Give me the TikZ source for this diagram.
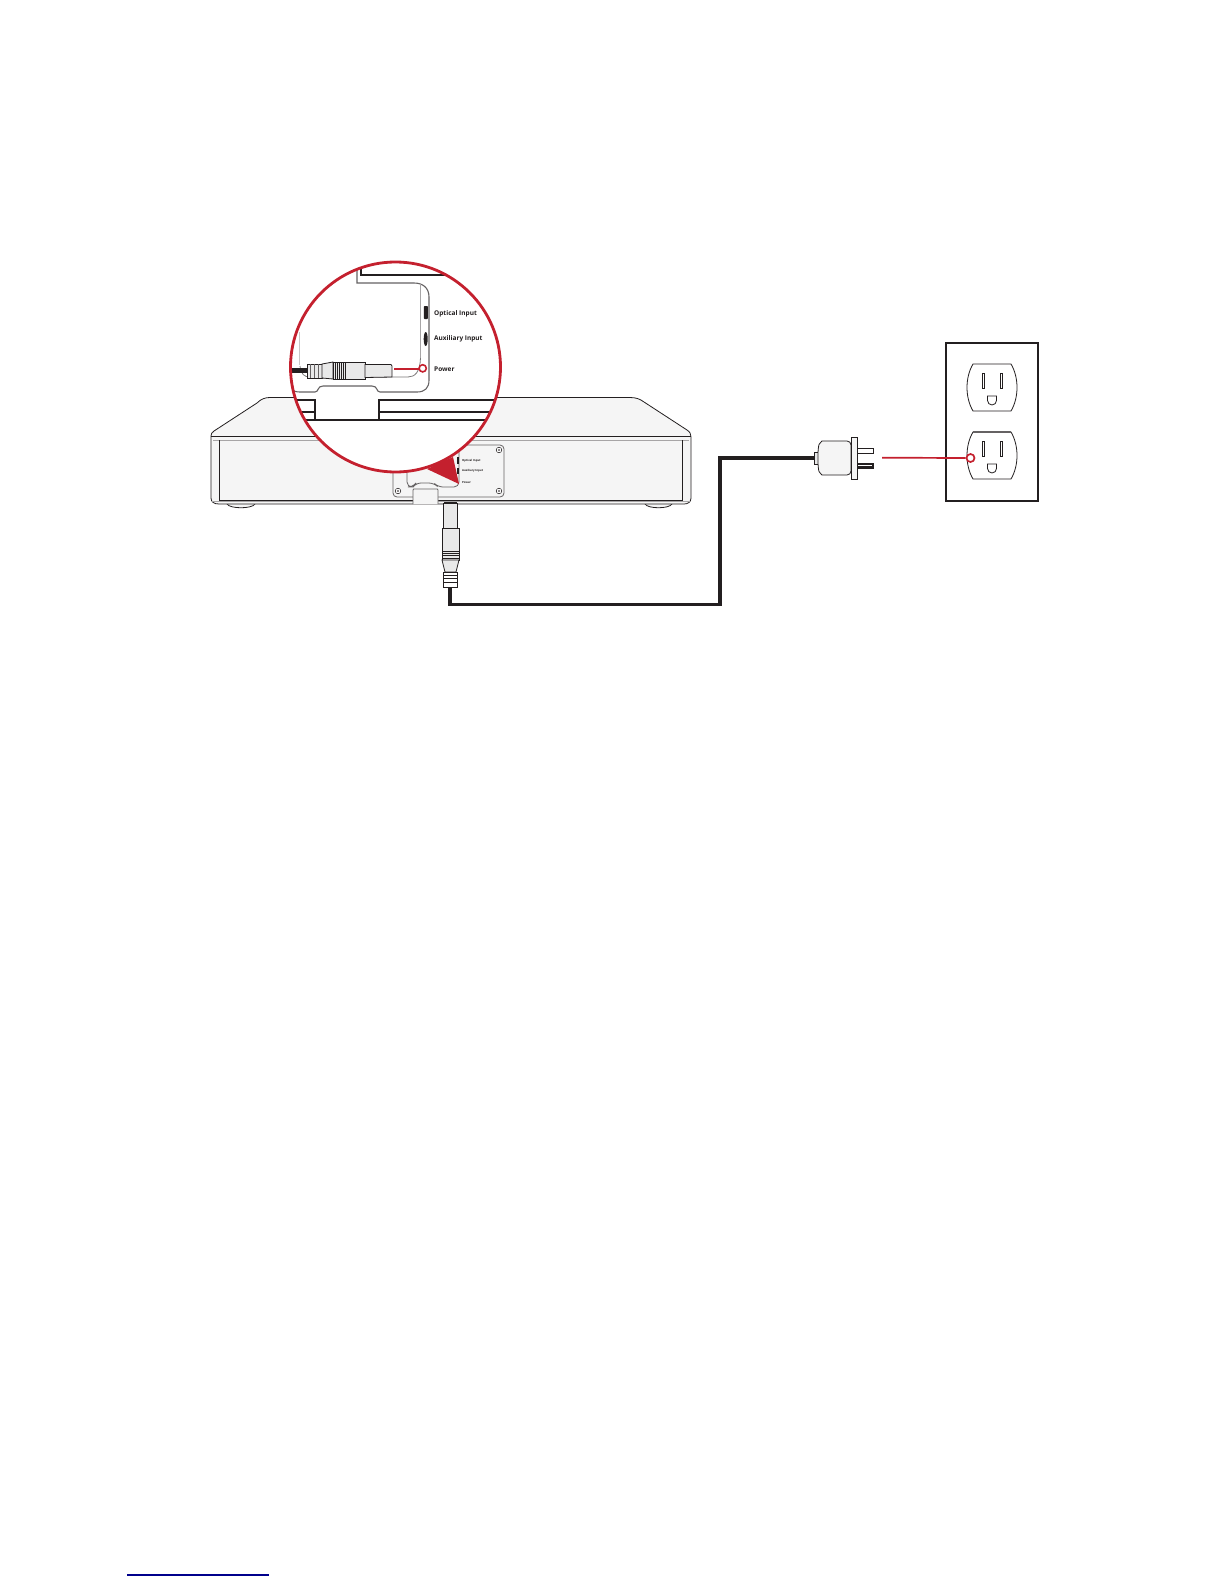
\documentclass[tikz,border=0pt]{standalone}
\usepackage{fontspec}
\setmainfont{Open Sans}
\definecolor{redc}{HTML}{C4202E}
\definecolor{ink}{HTML}{231F20}
\definecolor{bodyc}{HTML}{F5F5F5}
\definecolor{plugc}{HTML}{E9E9E9}
\tikzset{
  ln/.style={draw=ink,line width=0.8pt},
  gl/.style={draw=ink!70,line width=0.8pt},
  thick line/.style={draw=ink,line width=2pt},
  cable/.style={draw=ink,line width=3.6pt},
  redline/.style={draw=redc,line width=1.7pt},
  lab/.style={font=\bfseries\fontsize{6.5}{7}\selectfont,text=ink,inner sep=0pt,anchor=west},
  tiny/.style={font=\bfseries\fontsize{2.8}{3}\selectfont,text=ink,inner sep=0pt,anchor=west},
  screw/.pic={\draw[ln,line width=0.5pt,fill=white] (0,0) circle[radius=2.8pt]; \fill[ink!70] (0,0) circle[radius=1.2pt];},
  outlet/.pic={
    \draw[ln,fill=white] (-19,-23.5) -- (19,-23.5) .. controls (27,-10) and (27,10) .. (19,23.5) -- (-19,23.5) .. controls (-27,10) and (-27,-10) .. (-19,-23.5) -- cycle;
    \draw[ln,fill=white] (-10,-14.5) rectangle (-8,0.5);
    \draw[ln,fill=white] (8.5,-14.5) rectangle (10.5,0.5);
    \draw[ln,fill=white] (-4.5,8.5) -- (4.5,8.5) -- (4.5,13) arc[start angle=0,end angle=-180,radius=4.5pt] -- cycle;
  }
}
\begin{document}
\begin{tikzpicture}[x=1pt,y=-1pt]
\useasboundingbox (0,0) rectangle (1224,1584);
\fill[white] (0,0) rectangle (1224,1584);

% link rule
\draw[draw=blue!55!black,line width=1.2pt] (127,1575) -- (269,1575);

% feet
\draw[ln,fill=bodyc] (227,504) .. controls (230,509) and (252,509) .. (255,504);
\draw[ln,fill=bodyc] (645,504) .. controls (648,509) and (669,509) .. (672,504);

% soundbar body
\draw[ln,fill=bodyc] (270,397.5) -- (630,397.5) .. controls (636,397.5) and (640,399) .. (644,402)
  -- (687,430) .. controls (690,432) and (691,434) .. (691,437) -- (691,498)
  .. controls (691,502) and (688,504) .. (684,504) -- (219,504)
  .. controls (214,504) and (211,502) .. (211,498) -- (211,436)
  .. controls (211,434) and (212,432) .. (214,431) -- (257,403)
  .. controls (261,399) and (265,397.5) .. (270,397.5) -- cycle;
\draw[ln] (211,436) -- (691,436);
\draw[ln,draw=ink!40] (213,440) -- (689,440);
\draw[ln] (219.5,440) -- (219.5,500.5) -- (682,500.5) -- (682,440);
\draw[ln,draw=ink!40] (212,501) -- (690,501);

% rear panel
\draw[gl,fill=bodyc,rounded corners=4pt] (393,445) rectangle (504,497);
\draw[gl,fill=bodyc,rounded corners=5pt] (407,445) -- (407,487) -- (413,487) -- (416,483) -- (434,483) -- (438,487) -- (459,487) -- (459,445);
\draw[gl,fill=bodyc] (413,504) -- (413,490) .. controls (413,489) and (414,489) .. (415,489) -- (436,489) .. controls (437,489) and (438,489) .. (438,490) -- (438,504);
\pic at (398,491) {screw};
\pic at (499,491) {screw};
\pic at (499,450) {screw};
\fill[ink] (456.5,457) rectangle (459,464);
\fill[ink] (457,468) rectangle (459,474);
\node[tiny] (pnlOpt) at (462,460.5) {Optical Input};
\node[tiny] (pnlAux) at (462,470.5) {Auxiliary Input};
\node[tiny] (pnlPow) at (462,483) {Power};

% red wedge toward the panel
\fill[redc] (459,484) -- (427,469) -- (453,457) -- cycle;

% magnifier
\begin{scope}
  \path[clip] (395.5,367) circle[radius=105pt];
  \fill[white] (280,250) rectangle (510,490);
  % upper edge of back
  \draw[thick line] (361,255) -- (361,275) -- (450,275);
  \draw[gl,line width=1.1pt] (357,255) -- (357,283) -- (414,283) .. controls (423,283) and (429,288) .. (429,297)
    -- (429,380) .. controls (429,388) and (425,392) .. (417,392) -- (380,392)
    .. controls (376,392) and (378,386) .. (372,386) -- (323,386)
    .. controls (317,386) and (319,392) .. (315,392) -- (300,392)
    .. controls (292,392) and (288,388) .. (285,380);
  \draw[ln,draw=ink!40] (420.5,283) -- (420.5,358);
  \draw[ln,draw=ink!25] (299,332) -- (299,365);
  \draw[ln,draw=ink!60] (300,366) .. controls (301,374) and (304,377) .. (310,377) -- (408,377) .. controls (415,377) and (420,372) .. (420.5,358);
  % shelf lines
  \draw[thick line] (280,400) -- (315,400) -- (315,420);
  \draw[thick line] (280,412) -- (315,412);
  \draw[thick line] (500,400) -- (379,400) -- (379,420);
  \draw[thick line] (379,412) -- (500,412);
  \draw[thick line] (280,420) -- (500,420);
  % rear ports
  \fill[ink,rounded corners=0.8pt] (423.8,306) rectangle (427.8,319);
  \fill[ink] (425.7,339) ellipse[x radius=2pt,y radius=7pt];
  % connector in zoom
  \draw[ink,line width=5pt] (285,370.5) -- (307,370.5);
  \draw[ln,fill=plugc] (307,364) rectangle (322,378);
  \foreach \xx in {310.5,314.5,318.5} \draw[ln,draw=ink!70] (\xx,364) -- (\xx,378);
  \draw[ln,fill=plugc] (322,364) -- (333,362) -- (333,379) -- (322,378) -- cycle;
  \draw[ln,fill=plugc] (333,362) rectangle (345,379);
  \foreach \xx in {335,337,339,341,343} \draw[ln,line width=1pt] (\xx,362) -- (\xx,379);
  \draw[ln,fill=plugc] (345,362) rectangle (365,379);
  \draw[ln,fill=plugc] (365,364.5) -- (391,364.5) .. controls (392,364.5) and (392,365) .. (392,366) -- (392,377) -- (365,377.5) -- cycle;
  % red callout
  \coordinate (zoomStart) at (394,369);
  \draw[redline] (zoomStart) -- (418.5,369);
  \draw[redc,line width=1.6pt,fill=white] (422.7,368.3) circle[radius=3.6pt];
\end{scope}
\node[lab] (lblOpt) at (434,313.5) {Optical Input};
\node[lab] (lblAux) at (434,338.5) {Auxiliary Input};
\node[lab] (lblPow) at (434,369) {Power};
\draw[redc,line width=2.8pt] (395.5,367) circle[radius=105pt];

% DC plug below bar
\coordinate (jackEnd) at (450,587);
\coordinate (bendA) at (450,604.5);
\coordinate (bendB) at (720,604.5);
\coordinate (bendC) at (720,457.7);
\coordinate (plugEnd) at (815,457.7);
\draw[cable,line join=miter] (jackEnd) -- (bendA) -- (bendB) -- (bendC) -- (plugEnd);
\draw[ink,line width=1.8pt] (444,502.5) -- (457,502.5);
\draw[ln,fill=plugc] (443.5,503) rectangle (457,528);
\draw[ln,fill=plugc] (442,528) rectangle (459,551);
\draw[ln,fill=plugc] (442,551) rectangle (459,560);
\foreach \yy in {553,555.5,558} \draw[ln] (442,\yy) -- (459,\yy);
\draw[ln,fill=plugc] (442,560) -- (459,560) -- (456,572) -- (445,572) -- cycle;
\draw[ln,fill=white] (443.5,572) rectangle (457,587);
\foreach \yy in {575,578.5,582} \draw[ln] (443.5,\yy) -- (457,\yy);

% wall plug
\draw[ln,fill=plugc] (814,452.5) rectangle (819,464);
\draw[ln,fill=bodyc,rounded corners=4pt] (851,441) -- (826,441) .. controls (822,441) and (819,444) .. (818,449) -- (818,467) .. controls (819,472) and (822,475) .. (826,475) -- (851,475) -- cycle;
\draw[ln,fill=white] (857,448.5) rectangle (873,453);
\draw[ln,fill=ink] (857,463.5) rectangle (873,468);
\fill[white] (858,465) rectangle (872,466.2);
\draw[ln,fill=bodyc] (851,437) rectangle (857.5,479);

% wall plate with outlets
\draw[ink,line width=2.6pt] (946,343) rectangle (1038,501);
\pic at (992,387.5) {outlet};
\pic at (992,455.5) {outlet};
\draw[draw=ink!70,line width=1.3pt] (973,432) -- (1011,432);

% red callout to outlet
\node[circle,draw=redc,line width=1.7pt,fill=white,minimum size=8pt,inner sep=0pt] (hole) at (970.5,458) {};
\coordinate (calloutStart) at (882,457.7);
\draw[redline] (calloutStart) -- (hole.west);
\end{tikzpicture}
\end{document}
